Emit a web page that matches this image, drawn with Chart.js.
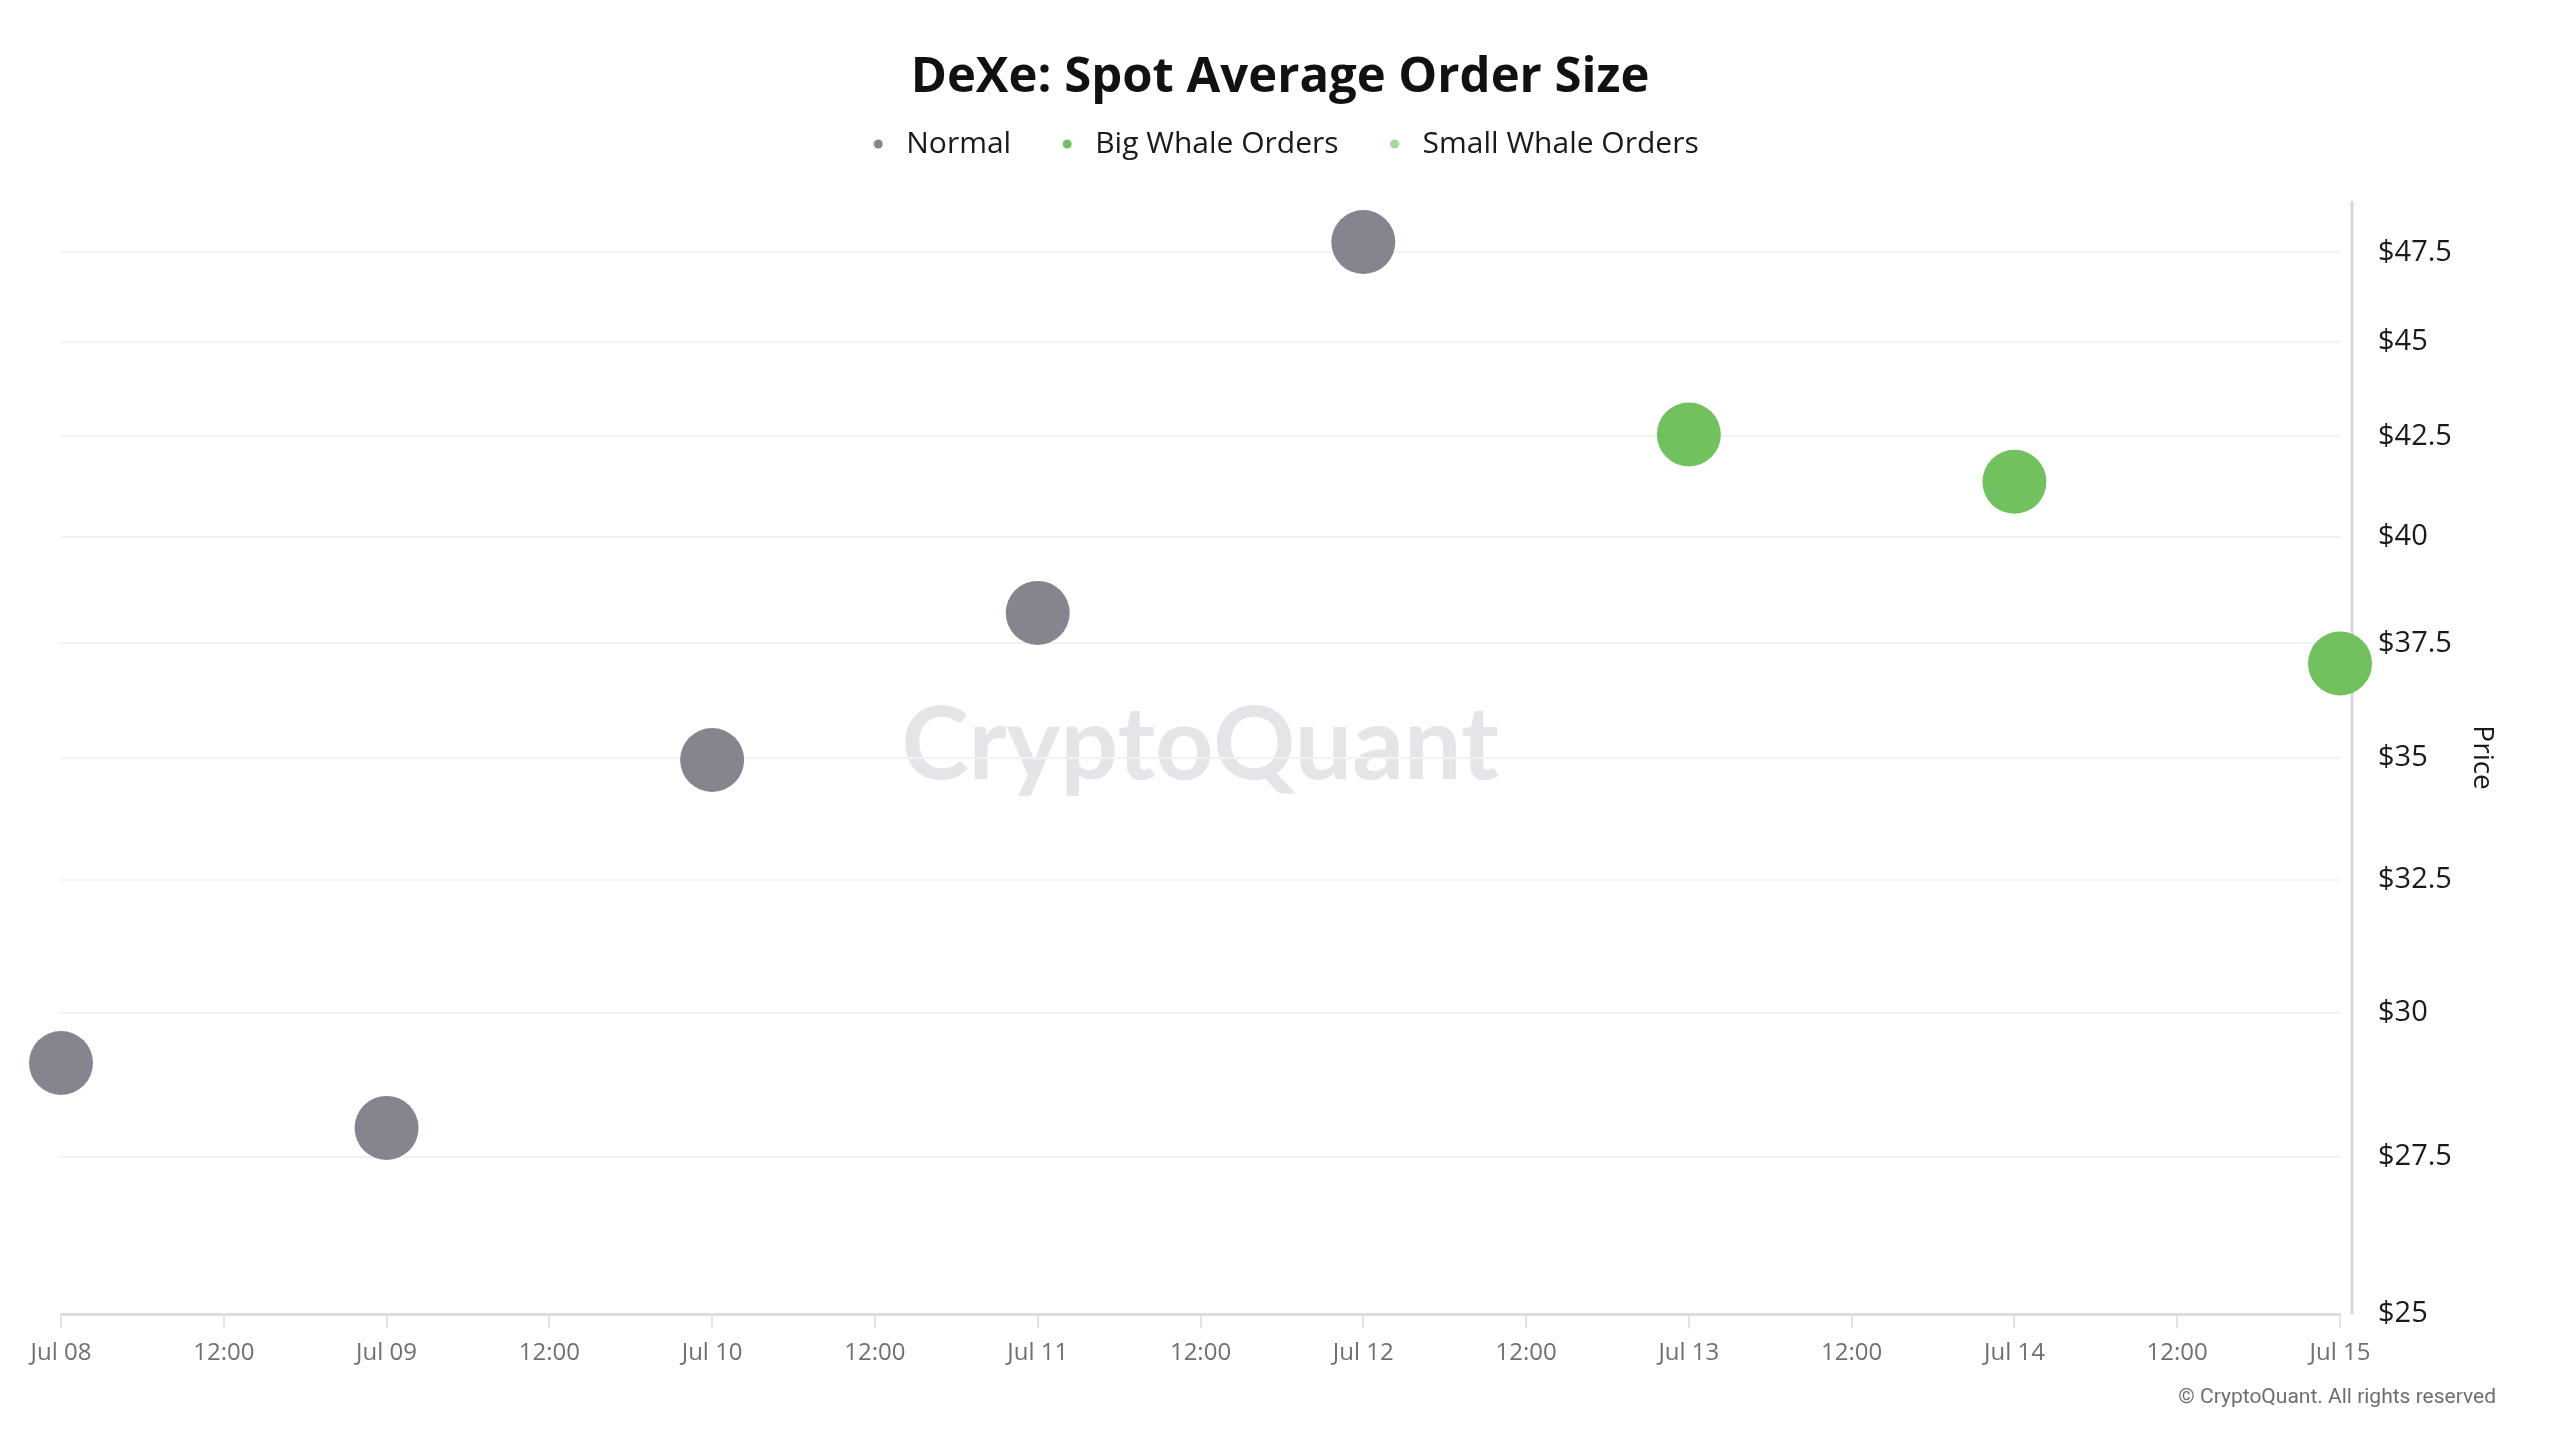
<!DOCTYPE html>
<html>
<head>
<meta charset="utf-8">
<title>DeXe: Spot Average Order Size</title>
<script src="https://cdn.jsdelivr.net/npm/chart.js@4.4.1/dist/chart.umd.min.js"></script>
<style>
  html, body { margin: 0; padding: 0; background: #fff; }
  #wrap { position: relative; width: 2560px; height: 1440px; font-family: 'Open Sans', sans-serif; overflow: hidden; }
  #chart { position: absolute; left: 0; top: 0; z-index: 2; }
  .title { position: absolute; left: 0; top: 47px; width: 2560px; text-align: center;
           font-size: 49px; line-height: 52px; font-weight: 700; color: #111; z-index: 3; }
  .watermark { position: absolute; left: 850px; top: 683px; width: 700px; text-align: center;
               font-family: 'Lato', sans-serif; font-weight: 700; font-size: 102px; line-height: 114px;
               color: #e5e5e9; z-index: 1; }
  .copyright { position: absolute; right: 64px; top: 1383px; font-family: 'Roboto', sans-serif;
               font-size: 21px; line-height: 26px; color: #6e6e6e; z-index: 3; }
</style>
</head>
<body>
<div id="wrap">
  <div class="title">DeXe: Spot Average Order Size</div>
  <div class="watermark">CryptoQuant</div>
  <canvas id="chart" width="2560" height="1440"></canvas>
  <div class="copyright">© CryptoQuant. All rights reserved</div>
</div>
<script>
'use strict';

var xTickLabels = ['Jul 08', '12:00', 'Jul 09', '12:00', 'Jul 10', '12:00', 'Jul 11', '12:00',
                   'Jul 12', '12:00', 'Jul 13', '12:00', 'Jul 14', '12:00', 'Jul 15'];
var yTickValues = [25, 27.5, 30, 32.5, 35, 37.5, 40, 42.5, 45, 47.5];

var seriesNames  = ['Normal', 'Big Whale Orders', 'Small Whale Orders'];
var seriesColors = ['#86858f', '#71c15f', '#a8d59f'];

// x = days since Jul 08
var normalDays       = [0, 1, 2, 3, 4];
var normalPrices     = [29.1, 27.98, 34.95, 38.2, 47.8];
var bigWhaleDays     = [5, 6, 7];
var bigWhalePrices   = [42.55, 41.35, 37.05];
var smallWhaleDays   = [];
var smallWhalePrices = [];

function toPoints(days, prices) {
    return days.map(function (d, i) { return { x: d, y: prices[i] }; });
}

// small round legend marker
function legendDot(color) {
    var c = document.createElement('canvas');
    c.width = 10; c.height = 10;
    var g = c.getContext('2d');
    g.fillStyle = color;
    g.beginPath();
    g.arc(5, 5, 4.5, 0, Math.PI * 2);
    g.fill();
    return c;
}

var seriesData = [
    toPoints(normalDays, normalPrices),
    toPoints(bigWhaleDays, bigWhalePrices),
    toPoints(smallWhaleDays, smallWhalePrices)
];

var datasets = seriesNames.map(function (name, i) {
    return {
        label: name,
        data: seriesData[i],
        backgroundColor: seriesColors[i],
        borderColor: seriesColors[i],
        borderWidth: 0,
        pointRadius: 32,
        pointHoverRadius: 32,
        clip: false
    };
});

var legendHeightFix = {
    id: 'legendHeightFix',
    beforeInit: function (chart) {
        var origFit = chart.legend.fit;
        chart.legend.fit = function () {
            origFit.call(this);
            this.height = 115;
        };
    }
};

// y axis line sits a little to the right of the plot edge
var priceAxisLine = {
    id: 'priceAxisLine',
    beforeDatasetsDraw: function (chart) {
        var a = chart.chartArea, ctx = chart.ctx;
        ctx.save();
        ctx.strokeStyle = '#d6d6df';
        ctx.lineWidth = 3;
        ctx.beginPath();
        ctx.moveTo(a.right + 12, a.top);
        ctx.lineTo(a.right + 12, a.bottom);
        ctx.stroke();
        ctx.restore();
    }
};

Chart.defaults.font.family = "'Open Sans', sans-serif";

new Chart(document.getElementById('chart'), {
    type: 'scatter',
    data: { datasets: datasets },
    plugins: [legendHeightFix, priceAxisLine],
    options: {
        responsive: false,
        animation: false,
        events: [],
        layout: { padding: { top: 86, left: 61, right: 57, bottom: 61 } },
        plugins: {
            title: { display: false },
            tooltip: { enabled: false },
            legend: {
                position: 'top',
                labels: {
                    usePointStyle: true,
                    boxWidth: 26,
                    boxHeight: 10,
                    padding: 43,
                    color: '#1a1a1a',
                    font: { size: 30 },
                    generateLabels: function (chart) {
                        var items = Chart.defaults.plugins.legend.labels.generateLabels(chart);
                        items.forEach(function (it, i) {
                            it.pointStyle = legendDot(seriesColors[i]);
                            it.hidden = false;
                        });
                        return items;
                    }
                }
            }
        },
        scales: {
            x: {
                type: 'linear',
                min: 0,
                max: 7,
                afterBuildTicks: function (s) {
                    s.ticks = xTickLabels.map(function (l, i) { return { value: i * 0.5 }; });
                },
                ticks: {
                    autoSkip: false,
                    maxRotation: 0,
                    color: '#707070',
                    font: { size: 24 },
                    padding: 11,
                    callback: function (v, i) { return xTickLabels[i]; }
                },
                grid: { drawOnChartArea: false, drawTicks: true, tickLength: 14, color: '#e2e2e8', lineWidth: 2 },
                border: { display: true, color: '#dcdce4', width: 3 }
            },
            y: {
                type: 'logarithmic',
                position: 'right',
                min: 25,
                max: 49,
                afterBuildTicks: function (s) {
                    s.ticks = yTickValues.map(function (v) { return { value: v }; });
                },
                afterFit: function (s) { s.width = 163; },
                ticks: {
                    color: '#1a1a1a',
                    font: { size: 29 },
                    padding: 38,
                    callback: function (v) { return '$' + v; }
                },
                grid: { drawTicks: false, color: '#f2f2f2', lineWidth: 2 },
                border: { display: false },
                title: {
                    display: true,
                    text: 'Price',
                    color: '#1a1a1a',
                    font: { size: 28 },
                    padding: { top: 4, bottom: 4 }
                }
            }
        }
    }
});
</script>
</body>
</html>
